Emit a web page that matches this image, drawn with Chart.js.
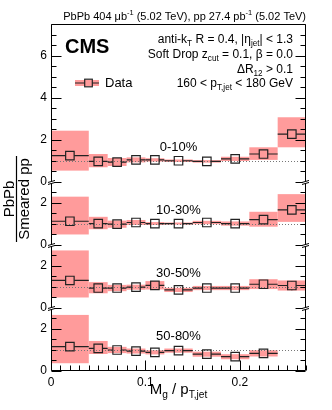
<!DOCTYPE html>
<html>
<head>
<meta charset="utf-8">
<script src="https://cdn.jsdelivr.net/npm/chart.js@4.4.1/dist/chart.umd.min.js"></script>
<style>
  html, body { margin: 0; padding: 0; background: #fff; }
  #wrap { width: 332px; height: 410px; }
</style>
</head>
<body>
<div id="wrap"><canvas id="ratioChart" width="332" height="410"></canvas></div>
<script>
// Mg / pT,jet binning
const binEdges = [0, 0.04, 0.06, 0.08, 0.10, 0.12, 0.15, 0.18, 0.21, 0.24, 0.27];
const binCenters = [0.02, 0.05, 0.07, 0.09, 0.11, 0.135, 0.165, 0.195, 0.225, 0.255];
const centralityLabels = ['0-10%', '10-30%', '30-50%', '50-80%'];
const xTicks = [0, 0.1, 0.2];

// PbPb / smeared pp, per centrality (null = no point)
const ratio0to10 = [1.25, 0.98, 0.94, 1.05, 1.05, 1.01, 0.98, 1.10, 1.33, 2.28];
const sysLow0to10 = [0.54, 0.70, 0.76, 0.93, 0.97, 0.95, 0.92, 1.00, 1.05, 1.65];
const sysHigh0to10 = [2.44, 1.33, 1.14, 1.17, 1.13, 1.07, 1.04, 1.20, 1.65, 3.08];
const stat0to10 = [0.05, 0.04, 0.03, 0.03, 0.03, 0.03, 0.04, 0.05, 0.08, 0.16];

const ratio10to30 = [1.13, 1.02, 0.99, 1.07, 1.02, 1.02, 1.07, 1.02, 1.21, 1.67];
const sysLow10to30 = [0.50, 0.75, 0.82, 0.95, 0.95, 0.97, 0.99, 0.92, 0.87, 1.10];
const sysHigh10to30 = [2.30, 1.34, 1.16, 1.19, 1.09, 1.07, 1.15, 1.12, 1.58, 2.42];
const stat10to30 = [0.04, 0.03, 0.03, 0.03, 0.03, 0.03, 0.03, 0.04, 0.06, 0.12];

const ratio30to50 = [1.31, 0.95, 0.95, 0.99, 1.08, 0.86, 0.95, 0.95, 1.13, 1.07];
const sysLow30to50 = [0.50, 0.70, 0.80, 0.87, 0.88, 0.76, 0.85, 0.85, 0.90, 0.83];
const sysHigh30to50 = [2.74, 1.23, 1.10, 1.11, 1.28, 0.96, 1.05, 1.05, 1.37, 1.31];
const stat30to50 = [0.05, 0.04, 0.04, 0.04, 0.04, 0.04, 0.04, 0.05, 0.08, 0.22];

const ratio50to80 = [1.16, 1.08, 1.00, 0.95, 0.89, 0.97, 0.80, 0.68, 0.84, null];
const sysLow50to80 = [0.37, 0.81, 0.85, 0.83, 0.79, 0.87, 0.68, 0.56, 0.69, null];
const sysHigh50to80 = [2.67, 1.43, 1.15, 1.07, 0.99, 1.07, 0.92, 0.80, 0.99, null];
const stat50to80 = [0.05, 0.04, 0.04, 0.04, 0.04, 0.04, 0.05, 0.06, 0.08, null];

// y range of each panel (top panel is taller)
const panelMax = [7.52, 3.0, 3.0, 3.0];

const panels = [
  { label: centralityLabels[0], ratio: ratio0to10, low: sysLow0to10, high: sysHigh0to10, stat: stat0to10 },
  { label: centralityLabels[1], ratio: ratio10to30, low: sysLow10to30, high: sysHigh10to30, stat: stat10to30 },
  { label: centralityLabels[2], ratio: ratio30to50, low: sysLow30to50, high: sysHigh30to50, stat: stat30to50 },
  { label: centralityLabels[3], ratio: ratio50to80, low: sysLow50to80, high: sysHigh50to80, stat: stat50to80 }
];

const FONT = '"Liberation Sans", Arial, Helvetica, sans-serif';
const boxColor = '#ff9b9b';
const ink = '#222';
const markerHalf = 4.3;

// draw text made of normal / sub / sup pieces
function richText(ctx, parts, x, y, size, align) {
  const sizeOf = p => p[1] ? size * 0.68 : size;
  let total = 0;
  parts.forEach(p => {
    ctx.font = sizeOf(p) + 'px ' + FONT;
    total += ctx.measureText(p[0]).width;
  });
  let cx = align === 'right' ? x - total : align === 'center' ? x - total / 2 : x;
  ctx.textAlign = 'left';
  ctx.textBaseline = 'alphabetic';
  parts.forEach(p => {
    ctx.font = sizeOf(p) + 'px ' + FONT;
    const dy = p[1] === 'sub' ? size * 0.28 : p[1] === 'sup' ? -size * 0.42 : 0;
    ctx.fillText(p[0], cx, y + dy);
    cx += ctx.measureText(p[0]).width;
  });
}

function squareMarker(ctx, x, y, h) {
  ctx.strokeStyle = ink;
  ctx.lineWidth = 1.2;
  ctx.strokeRect(x - h, y - h, 2 * h, 2 * h);
}

const rootStyle = {
  id: 'rootStyle',
  beforeDatasetsDraw(chart) {
    const ctx = chart.ctx;
    const xs = chart.scales.x;
    const area = chart.chartArea;
    ctx.save();
    panels.forEach((p, i) => {
      const ys = chart.scales['y' + i];
      // systematic boxes
      ctx.fillStyle = boxColor;
      p.ratio.forEach((v, j) => {
        if (v === null) return;
        const x0 = xs.getPixelForValue(binEdges[j]);
        const x1 = xs.getPixelForValue(binEdges[j + 1]);
        const yt = ys.getPixelForValue(p.high[j]);
        const yb = ys.getPixelForValue(p.low[j]);
        ctx.fillRect(x0, yt, x1 - x0, yb - yt);
      });
      // unity line
      const y1 = Math.round(ys.getPixelForValue(1)) + 0.5;
      ctx.strokeStyle = '#777';
      ctx.lineWidth = 1;
      ctx.setLineDash([1, 2]);
      ctx.beginPath();
      ctx.moveTo(area.left, y1);
      ctx.lineTo(area.right, y1);
      ctx.stroke();
      ctx.setLineDash([]);
      // error bars, kept out of the marker
      ctx.strokeStyle = ink;
      ctx.lineWidth = 1.2;
      p.ratio.forEach((v, j) => {
        if (v === null) return;
        const cx = xs.getPixelForValue(binCenters[j]);
        const cy = ys.getPixelForValue(v);
        const x0 = xs.getPixelForValue(binEdges[j]);
        const x1 = xs.getPixelForValue(binEdges[j + 1]);
        const yu = ys.getPixelForValue(v + p.stat[j]);
        const yd = ys.getPixelForValue(v - p.stat[j]);
        ctx.beginPath();
        ctx.moveTo(x0, cy); ctx.lineTo(cx - markerHalf, cy);
        ctx.moveTo(cx + markerHalf, cy); ctx.lineTo(x1, cy);
        if (cy - yu > markerHalf) { ctx.moveTo(cx, cy - markerHalf); ctx.lineTo(cx, yu); }
        if (yd - cy > markerHalf) { ctx.moveTo(cx, cy + markerHalf); ctx.lineTo(cx, yd); }
        ctx.stroke();
      });
    });
    ctx.restore();
  },
  afterDraw(chart) {
    const ctx = chart.ctx;
    const xs = chart.scales.x;
    const a = chart.chartArea;
    const L = Math.round(a.left) + 0.5, R = Math.round(a.right) - 0.5;
    const T = Math.round(a.top) + 0.5, B = Math.round(a.bottom) - 0.5;
    ctx.save();
    ctx.strokeStyle = '#000';
    ctx.lineWidth = 1;
    // frame
    ctx.beginPath();
    ctx.moveTo(L, T); ctx.lineTo(R, T);
    ctx.moveTo(L, T); ctx.lineTo(L, B);
    ctx.moveTo(R, T); ctx.lineTo(R, B);
    ctx.moveTo(L, B); ctx.lineTo(R, B);
    // y ticks, both sides
    panels.forEach((p, i) => {
      const ys = chart.scales['y' + i];
      for (let k = 0; k * 0.5 <= panelMax[i]; k++) {
        const y = Math.round(ys.getPixelForValue(k * 0.5)) + 0.5;
        const len = k % 4 === 0 ? 10 : 5;
        ctx.moveTo(L, y); ctx.lineTo(L + len, y);
        ctx.moveTo(R, y); ctx.lineTo(R - len, y);
      }
    });
    // x ticks
    for (let k = 0; k <= 27; k++) {
      const x = Math.round(xs.getPixelForValue(k / 100)) + 0.5;
      const len = k % 10 === 0 ? 10 : 5;
      ctx.moveTo(x, B); ctx.lineTo(x, B - len);
    }
    ctx.stroke();

    // axis break marks at panel joins
    for (let i = 1; i < panels.length; i++) {
      const y = chart.scales['y' + i].top;
      [L, R].forEach(x => {
        ctx.fillStyle = '#fff';
        ctx.fillRect(x - 3, y - 1, 6, 2.5);
        ctx.beginPath();
        ctx.moveTo(x - 3.5, y + 0.5); ctx.lineTo(x + 3.5, y - 1.5);
        ctx.moveTo(x - 3.5, y + 2.5); ctx.lineTo(x + 3.5, y + 0.5);
        ctx.stroke();
      });
    }

    ctx.fillStyle = '#000';
    const midX = (a.left + a.right) / 2;
    // centrality labels
    panels.forEach((p, i) => {
      const ys = chart.scales['y' + i];
      ctx.font = '13px ' + FONT;
      ctx.textAlign = 'center';
      ctx.textBaseline = 'alphabetic';
      ctx.fillText(p.label, midX, ys.getPixelForValue(1.48));
    });

    // header
    richText(ctx, [['PbPb 404 \u03bcb'], ['-1', 'sup'], [' (5.02 TeV), pp 27.4 pb'], ['-1', 'sup'], [' (5.02 TeV)']], a.right, 20, 11, 'right');
    // CMS
    ctx.font = 'bold 20px ' + FONT;
    ctx.textAlign = 'left';
    ctx.fillText('CMS', 65, 53);
    // selection text
    richText(ctx, [['anti-k'], ['T', 'sub'], [' R = 0.4, |\u03b7'], ['jet', 'sub'], ['| < 1.3']], 293, 43, 12, 'right');
    richText(ctx, [['Soft Drop z'], ['cut', 'sub'], [' = 0.1, \u03b2 = 0.0']], 293, 58, 12, 'right');
    richText(ctx, [['\u0394R'], ['12', 'sub'], [' > 0.1']], 293, 73, 12, 'right');
    richText(ctx, [['160 < p'], ['T,jet', 'sub'], [' < 180 GeV']], 293, 87, 12, 'right');

    // legend
    ctx.fillStyle = boxColor;
    ctx.fillRect(75, 80, 24, 6);
    ctx.strokeStyle = ink;
    ctx.lineWidth = 1.2;
    ctx.beginPath();
    ctx.moveTo(75, 83); ctx.lineTo(84.5, 83);
    ctx.moveTo(92.5, 83); ctx.lineTo(99, 83);
    ctx.stroke();
    squareMarker(ctx, 88.5, 83, 3.8);
    ctx.fillStyle = '#000';
    ctx.font = '13px ' + FONT;
    ctx.textAlign = 'left';
    ctx.fillText('Data', 105, 87);

    // x title
    richText(ctx, [['M'], ['g', 'sub'], [' / p'], ['T,jet', 'sub']], midX, 394, 15, 'center');

    // y title as a fraction, rotated
    ctx.save();
    ctx.translate(16.5, 199);
    ctx.rotate(-Math.PI / 2);
    ctx.font = '15px ' + FONT;
    ctx.textAlign = 'center';
    ctx.fillText('PbPb', 0, -2.5);
    ctx.fillText('Smeared pp', 0, 12);
    ctx.strokeStyle = '#000';
    ctx.lineWidth = 1.2;
    ctx.beginPath();
    ctx.moveTo(-43, 0); ctx.lineTo(43, 0);
    ctx.stroke();
    ctx.restore();
    ctx.restore();
  }
};

const datasets = panels.map((p, i) => ({
  label: p.label,
  yAxisID: 'y' + i,
  data: binCenters.map((c, j) => ({ x: c, y: p.ratio[j] })).filter(d => d.y !== null),
  pointStyle: 'rect',
  pointRadius: 6,
  borderColor: ink,
  borderWidth: 1.2,
  backgroundColor: 'rgba(0,0,0,0)',
  showLine: false
}));

const yScale = i => ({
  type: 'linear',
  position: 'left',
  stack: 'panels',
  stackWeight: panelMax[i],
  min: 0,
  max: panelMax[i],
  grid: { display: false, drawTicks: false },
  border: { display: false },
  ticks: {
    stepSize: 2,
    includeBounds: false,
    padding: 4,
    color: '#000',
    font: { family: FONT, size: 12 },
    callback: v => String(v)
  },
  afterFit: s => { s.width = 51; }
});

// stacked left axes are laid out bottom-up, so list the lowest panel first
new Chart(document.getElementById('ratioChart'), {
  type: 'scatter',
  data: { datasets },
  options: {
    responsive: false,
    devicePixelRatio: 1,
    animation: false,
    events: [],
    layout: { padding: { top: 24, right: 26, left: 0, bottom: 0 } },
    plugins: { legend: { display: false }, tooltip: { enabled: false } },
    scales: {
      x: {
        type: 'linear',
        min: binEdges[0],
        max: binEdges[binEdges.length - 1],
        grid: { display: false, drawTicks: false },
        border: { display: false },
        afterBuildTicks: s => { s.ticks = xTicks.map(v => ({ value: v })); },
        ticks: {
          padding: 4,
          color: '#000',
          font: { family: FONT, size: 12 },
          callback: v => v === 0 ? '0' : v.toFixed(1)
        },
        afterFit: s => { s.height = 39; }
      },
      y3: yScale(3),
      y2: yScale(2),
      y1: yScale(1),
      y0: yScale(0)
    }
  },
  plugins: [rootStyle]
});
</script>
</body>
</html>
